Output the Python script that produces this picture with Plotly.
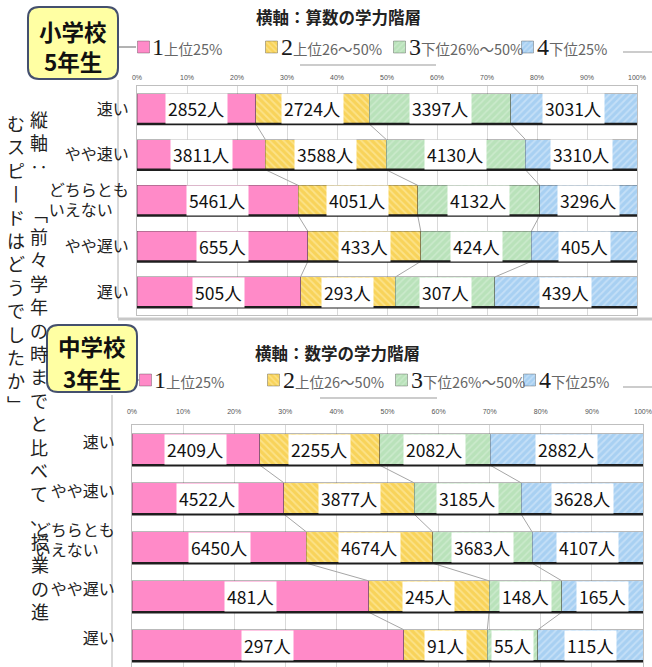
import plotly.graph_objects as go

W, H = 652, 667

# ---------------- data ----------------
categories = ["速い", "やや速い", "どちらとも<br>いえない　", "やや遅い", "遅い"]
series_nums = ["1", "2", "3", "4"]
series_names = ["上位25%", "上位26～50%", "下位26%～50%", "下位25%"]

# 小学校5年生 (算数)
es_upper25 = [2852, 3811, 5461, 655, 505]
es_upper26_50 = [2724, 3588, 4051, 433, 293]
es_lower26_50 = [3397, 4130, 4132, 424, 307]
es_lower25 = [3031, 3310, 3296, 405, 439]

# 中学校3年生 (数学)
jh_upper25 = [2409, 4522, 6450, 481, 297]
jh_upper26_50 = [2255, 3877, 4674, 245, 91]
jh_lower26_50 = [2082, 3185, 3683, 148, 55]
jh_lower25 = [2882, 3628, 4107, 165, 115]

tick_values = [0, 10, 20, 30, 40, 50, 60, 70, 80, 90, 100]
tick_labels = [f"{v}%" for v in tick_values]

titles = ["横軸：算数の学力階層", "横軸：数学の学力階層"]
box_texts = [["小学校", "5年生"], ["中学校", "3年生"]]
vertical_right_a = "縦軸‥ ﹁前々学年の時までと比べて、"
vertical_right_b = "授業の進"
vertical_left = "むスピ丨ドはどうでしたか﹂"

# ---------------- style ----------------
FONT = "Noto Sans CJK JP"
colors = ["#FF8AC8", "#F8D35A", "#B9E2BA", "#A8D0F2"]
patterns = [
    dict(shape=""),
    dict(shape="\\", fgcolor="#FFF2B8", size=5, solidity=0.35, fillmode="overlay"),
    dict(shape="/", fgcolor="#DDF1DD", size=5, solidity=0.3, fillmode="overlay"),
    dict(shape="/", fgcolor="#E0EEFB", size=5, solidity=0.35, fillmode="overlay"),
]


def px_x(x):
    return x / W


def px_y(y):
    return 1 - y / H


charts = [
    dict(data=[es_upper25, es_upper26_50, es_lower26_50, es_lower25],
         xa="x", ya="y", legend="legend", bar_w=0.66,
         leg_x=123.5, leg_text_x=[150, 279, 407, 535], leg_y=47),
    dict(data=[jh_upper25, jh_upper26_50, jh_lower26_50, jh_lower25],
         xa="x2", ya="y2", legend="legend2", bar_w=0.64,
         leg_x=125.5, leg_text_x=[152, 281, 409, 537], leg_y=380),
]

fig = go.Figure()
annotations = []
shapes = []

for c in charts:
    data = c["data"]
    n = len(categories)
    totals = [sum(s[i] for s in data) for i in range(n)]
    pcts = [[s[i] / totals[i] * 100 for i in range(n)] for s in data]
    cums = [[sum(pcts[k][i] for k in range(j)) for i in range(n)] for j in range(len(data) + 1)]
    half = c["bar_w"] / 2

    # series lines (Excel style) between adjacent bars
    lx, ly = [], []
    for i in range(n - 1):
        for j in range(1, len(data)):
            lx += [cums[j][i], cums[j][i + 1], None]
            ly += [i + half, i + 1 - half, None]
    fig.add_trace(go.Scatter(x=lx, y=ly, mode="lines", line=dict(color="#A6A6A6", width=1),
                             xaxis=c["xa"], yaxis=c["ya"], showlegend=False, hoverinfo="skip"))

    for j, s in enumerate(data):
        fig.add_trace(go.Bar(
            x=pcts[j], y=list(range(n)), orientation="h", width=c["bar_w"],
            name="", legend=c["legend"], xaxis=c["xa"], yaxis=c["ya"],
            marker=dict(color=colors[j], pattern=patterns[j],
                        line=dict(color="rgba(60,60,60,0.6)", width=0.6)),
            customdata=s, hovertemplate=series_names[j] + ": %{customdata}人<extra></extra>",
        ))
        for i in range(n):
            annotations.append(dict(
                x=cums[j][i] + pcts[j][i] / 2, y=i, xref=c["xa"], yref=c["ya"],
                text=f"{s[i]}人", showarrow=False, bgcolor="white", borderpad=2,
                font=dict(family=FONT, size=17.5, color="#111"),
            ))
        # legend text
        annotations.append(dict(
            x=px_x(c["leg_text_x"][j]), y=px_y(c["leg_y"]), xref="paper", yref="paper",
            xanchor="left", yanchor="middle", showarrow=False,
            text=(f'<span style="font-family:Liberation Serif;font-size:24px;color:#1a1a1a">'
                  f'{series_nums[j]}</span>{series_names[j]}'),
            font=dict(family=FONT, size=14.5, color="#666"),
        ))

    # dark bottom edge of each bar
    bx, by = [], []
    for i in range(n):
        bx += [0, 100, None]
        by += [i + half, i + half, None]
    fig.add_trace(go.Scatter(x=bx, y=by, mode="lines", line=dict(color="#1E1E1E", width=2.5),
                             xaxis=c["xa"], yaxis=c["ya"], showlegend=False, hoverinfo="skip"))

# ---------------- axes ----------------
axis_common = dict(
    range=[0, 100], tickvals=tick_values, ticktext=tick_labels, side="top",
    showgrid=True, gridcolor="#D9D9D9", gridwidth=1, zeroline=False,
    showline=True, linecolor="#BFBFBF", mirror=True, ticks="", ticklabeloverflow="allow",
    tickfont=dict(family="Liberation Sans", size=7, color="#555"), fixedrange=True,
)
ycommon = dict(tickvals=list(range(len(categories))), ticktext=categories,
               showgrid=False, zeroline=False, showline=True, linecolor="#BFBFBF", mirror=True,
               ticks="", tickfont=dict(family=FONT, size=16, color="#222"), fixedrange=True)
fig.update_layout(
    xaxis=dict(domain=[px_x(137), px_x(637)], anchor="y", ticklabelstandoff=2, **axis_common),
    xaxis2=dict(domain=[px_x(132), px_x(643)], anchor="y2", ticklabelstandoff=7, **axis_common),
    yaxis=dict(domain=[px_y(315), px_y(86)], anchor="x", range=[4.5, -0.5],
               ticklabelstandoff=4, **ycommon),
    yaxis2=dict(domain=[0, px_y(425)], anchor="x2", range=[4.5 - (4.5 * 49 + 24.5 - 242) / 49, -0.5],
                ticklabelstandoff=13, ticklabelshift=7, **ycommon),
)

legend_common = dict(
    orientation="h", xanchor="left", yanchor="middle", entrywidth=83, entrywidthmode="pixels",
    font=dict(family=FONT, size=12, color="#666"), bgcolor="rgba(0,0,0,0)",
    traceorder="normal", itemclick=False, itemdoubleclick=False,
)
fig.update_layout(
    legend=dict(x=px_x(charts[0]["leg_x"]), y=px_y(charts[0]["leg_y"]), **legend_common),
    legend2=dict(x=px_x(charts[1]["leg_x"]), y=px_y(charts[1]["leg_y"]), **legend_common),
)

# ---------------- titles, boxes, vertical text ----------------
annotations.append(dict(x=px_x(338), y=px_y(17), xref="paper", yref="paper", text=titles[0],
                        xanchor="center", yanchor="middle", showarrow=False,
                        font=dict(family=FONT, size=16.5, color="#222", weight="bold")))
annotations.append(dict(x=px_x(337), y=px_y(353), xref="paper", yref="paper", text=titles[1],
                        xanchor="center", yanchor="middle", showarrow=False,
                        font=dict(family=FONT, size=16.5, color="#222", weight="bold")))


def rounded(x0, y0, x1, y1, r):
    pts = [
        ("M", [(x0 + r, y0)]), ("L", [(x1 - r, y0)]), ("Q", [(x1, y0), (x1, y0 + r)]),
        ("L", [(x1, y1 - r)]), ("Q", [(x1, y1), (x1 - r, y1)]), ("L", [(x0 + r, y1)]),
        ("Q", [(x0, y1), (x0, y1 - r)]), ("L", [(x0, y0 + r)]), ("Q", [(x0, y0), (x0 + r, y0)]),
    ]
    out = ""
    for cmd, ps in pts:
        out += cmd + " ".join(f"{px_x(a):.5f},{px_y(b):.5f}" for a, b in ps) + " "
    return out + "Z"


boxes = [dict(x0=28, y0=7, x1=118, y1=79, lines_y=[31, 61]),
         dict(x0=47, y0=325, x1=137, y1=392, lines_y=[346, 378])]
for b, txt in zip(boxes, box_texts):
    shapes.append(dict(type="path", xref="paper", yref="paper",
                       path=rounded(b["x0"], b["y0"], b["x1"], b["y1"], 11),
                       fillcolor="#FFFFA3", line=dict(color="#44506E", width=2), layer="above"))
    for t, yy in zip(txt, b["lines_y"]):
        annotations.append(dict(x=px_x((b["x0"] + b["x1"]) / 2), y=px_y(yy), xref="paper", yref="paper",
                                xanchor="center", yanchor="middle", text=t, showarrow=False,
                                font=dict(family=FONT, size=22.5, color="#111", weight="bold")))

for col, xc, ytop in [(vertical_right_a, 39, 104), (vertical_right_b, 40, 526), (vertical_left, 16, 108)]:
    annotations.append(dict(x=px_x(xc), y=px_y(ytop), xref="paper", yref="paper",
                            xanchor="center", yanchor="top",
                            text="<br>".join(col), showarrow=False,
                            font=dict(family=FONT, size=18.0, color="#222")))

# decorative frame lines of the original composite
deco = [
    (118, 47, 136, 47, "#666", 1), (300, 65, 436, 65, "#BBBBBB", 1.5), (623, 52, 652, 52, "#999", 1),
    (118, 80, 118, 318, "#CCCCCC", 1.5), (118, 319, 652, 319, "#C8C8C8", 3),
    (137, 380, 139, 380, "#666", 1), (320, 398, 437, 398, "#BBBBBB", 1.5), (623, 387, 652, 387, "#999", 1),
    (112, 395, 112, 667, "#CCCCCC", 1.5),
]
for x0, y0, x1, y1, col, wdt in deco:
    shapes.append(dict(type="line", xref="paper", yref="paper", x0=px_x(x0), y0=px_y(y0),
                       x1=px_x(x1), y1=px_y(y1), line=dict(color=col, width=wdt), layer="below"))

fig.update_layout(
    width=W, height=H, margin=dict(l=0, r=0, t=0, b=0, pad=0, autoexpand=False),
    paper_bgcolor="white", plot_bgcolor="white", barmode="stack", bargap=0.3,
    font=dict(family=FONT), annotations=annotations, shapes=shapes,
    hovermode="closest",
)

fig.write_html("out.html", config={"displayModeBar": False},
               post_script="document.body.style.margin='0';document.body.style.overflow='hidden';")
